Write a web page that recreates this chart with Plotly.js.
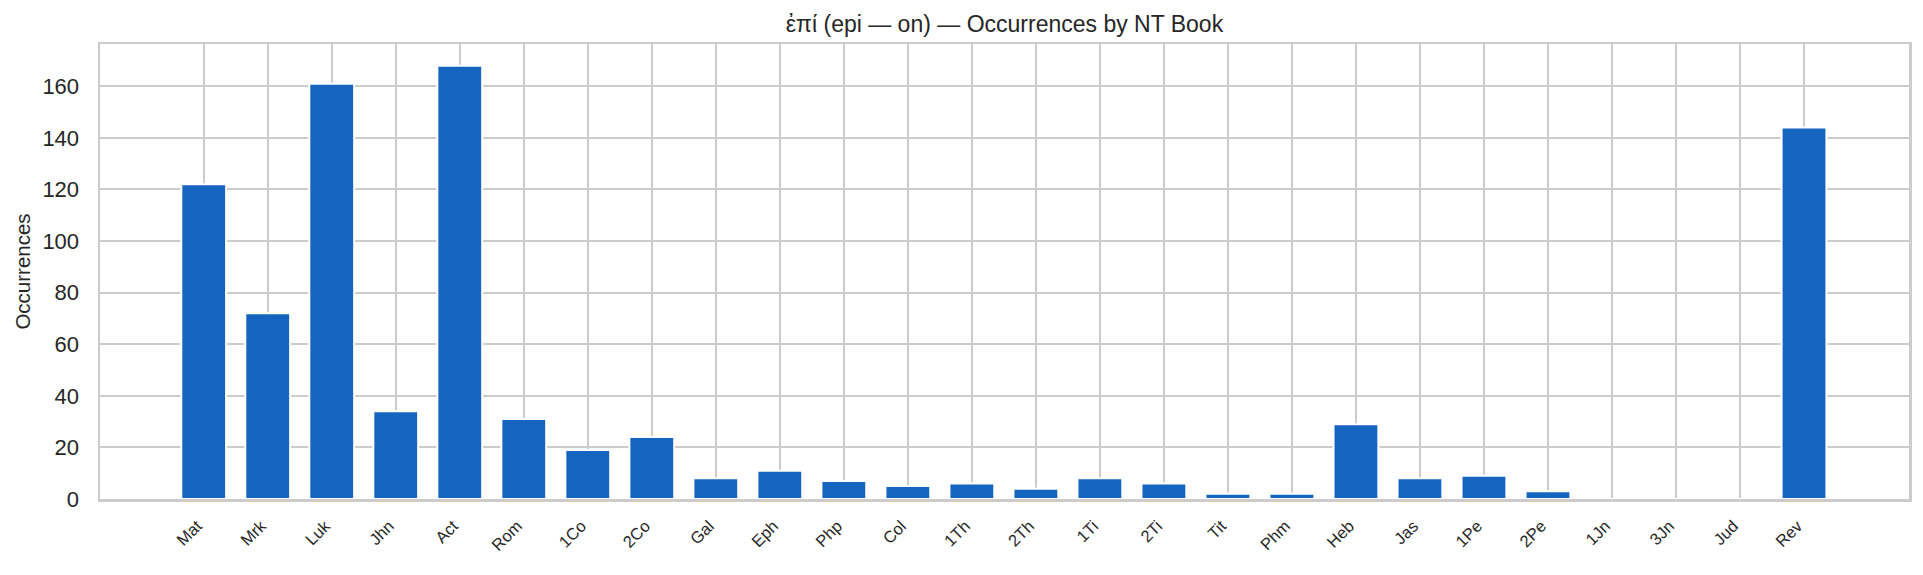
<!DOCTYPE html>
<html>
<head>
<meta charset="utf-8">
<script src="https://cdn.plot.ly/plotly-3.0.1.min.js"></script>
<style>
  html, body { margin: 0; padding: 0; background: #fff; }
  #chart { width: 1923px; height: 575px; }
</style>
</head>
<body>
<div id="chart"></div>
<script>
const books = ['Mat', 'Mrk', 'Luk', 'Jhn', 'Act', 'Rom', '1Co', '2Co', 'Gal', 'Eph', 'Php', 'Col', '1Th',
  '2Th', '1Ti', '2Ti', 'Tit', 'Phm', 'Heb', 'Jas', '1Pe', '2Pe', '1Jn', '3Jn', 'Jud', 'Rev'];
const counts = [122, 72, 161, 34, 168, 31, 19, 24, 8, 11, 7, 5, 6,
  4, 8, 6, 2, 2, 29, 8, 9, 3, 0, 0, 0, 144];
const yTicks = [0, 20, 40, 60, 80, 100, 120, 140, 160];

const font = 'Liberation Sans, Arial, sans-serif';
const gridColor = '#cccccc';

const trace = {
  type: 'bar',
  x: books,
  y: counts,
  width: 0.7,
  marker: { color: '#1565c0', line: { color: '#ffffff', width: 2 } },
  hoverinfo: 'x+y',
};

const layout = {
  width: 1923,
  height: 575,
  margin: { l: 100, r: 14, t: 44, b: 76 },
  paper_bgcolor: '#ffffff',
  plot_bgcolor: '#ffffff',
  showlegend: false,
  title: {
    text: 'ἐπί (epi — on) — Occurrences by NT Book',
    font: { family: font, size: 23, color: '#262626' },
    x: 0.5,
    xref: 'paper',
    xanchor: 'center',
    y: 1 - 24 / 575,
    yref: 'container',
    yanchor: 'middle',
  },
  xaxis: {
    type: 'category',
    range: [-1.62, 26.64],
    tickvals: books,
    // trailing spaces push the rotated labels a bit left, like right-aligned matplotlib labels
    ticktext: books.map(b => b + '\u00a0\u00a0'),
    tickangle: -45,
    tickfont: { family: font, size: 16.5, color: '#262626' },
    ticklabelstandoff: 2,
    showgrid: true,
    gridcolor: gridColor,
    gridwidth: 2,
    showline: true,
    linecolor: gridColor,
    linewidth: 2.5,
    mirror: true,
    ticks: '',
    zeroline: false,
    fixedrange: true,
  },
  yaxis: {
    range: [0, 176.4],
    tickvals: yTicks,
    ticktext: yTicks.map(String),
    tickfont: { family: font, size: 22, color: '#262626' },
    ticklabelstandoff: 14,
    title: { text: 'Occurrences', font: { family: font, size: 20.5, color: '#262626' }, standoff: 6 },
    showgrid: true,
    gridcolor: gridColor,
    gridwidth: 2,
    showline: true,
    linecolor: gridColor,
    linewidth: 2.5,
    mirror: true,
    ticks: '',
    zeroline: false,
    fixedrange: true,
  },
};

Plotly.newPlot('chart', [trace], layout, { displayModeBar: false, staticPlot: true });
</script>
</body>
</html>
